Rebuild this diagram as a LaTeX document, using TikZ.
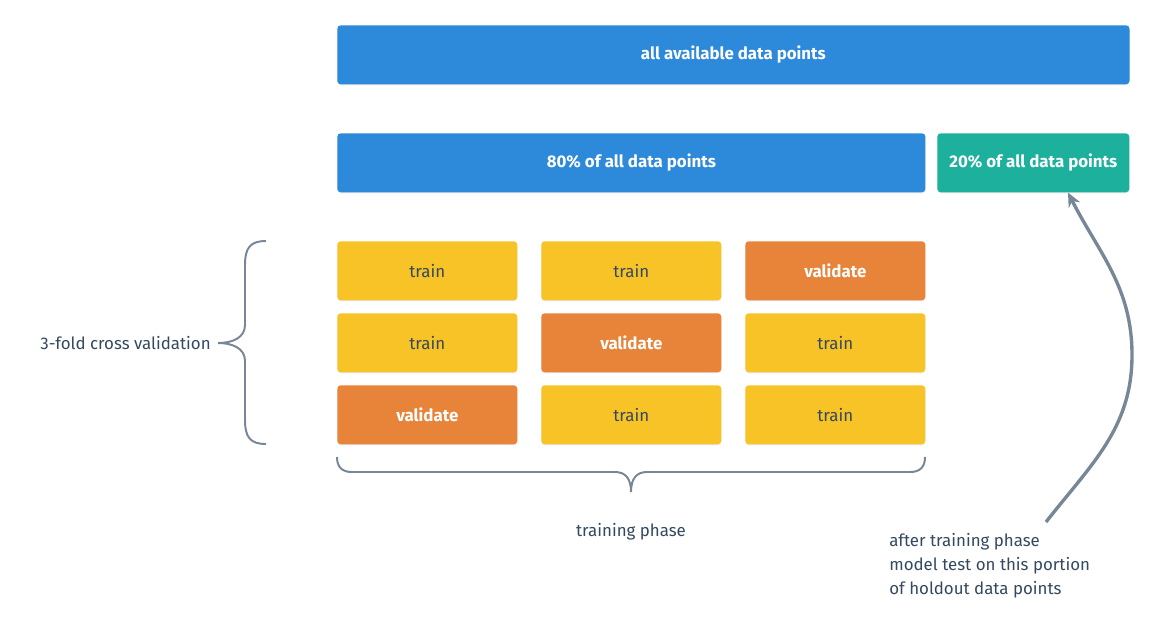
\documentclass[tikz,border=0pt]{standalone}
\usepackage{fontspec}
\setmainfont{Fira Sans}
\usetikzlibrary{shadows,arrows.meta}

\definecolor{barblue}{HTML}{2D89D9}
\definecolor{barteal}{HTML}{1CB09D}
\definecolor{trainyellow}{HTML}{F8C326}
\definecolor{valorange}{HTML}{E8833A}
\definecolor{linegrey}{HTML}{778797}
\definecolor{textdark}{HTML}{34495E}

\tikzset{
  box/.style={rectangle, rounded corners=2.5pt, anchor=north west, inner sep=0pt,
    minimum height=1.475cm, font=\fontsize{12}{14}\selectfont,
    drop shadow={shadow xshift=0pt, shadow yshift=-0.8pt, opacity=0.15}},
  databox/.style={box, fill=barblue, text=white, font=\fontsize{12}{14}\selectfont\bfseries},
  holdbox/.style={box, fill=barteal, text=white, font=\fontsize{12}{14}\selectfont\bfseries},
  trainbox/.style={box, fill=trainyellow, text=textdark, minimum width=4.5cm},
  valbox/.style={box, fill=valorange, text=white, minimum width=4.5cm,
    font=\fontsize{12}{14}\selectfont\bfseries},
  brace/.style={draw=linegrey, line width=1.4pt},
  label/.style={text=textdark, font=\fontsize{12}{17}\selectfont, inner sep=0pt}
}

\begin{document}
\begin{tikzpicture}[x=0.025cm, y=-0.025cm]
  \useasboundingbox (0,0) rectangle (1161,626);

  % data split
  \node[databox, minimum width=19.8cm] (alldata) at (337,25) {all available data points};
  \node[databox, minimum width=14.7cm] (trainset) at (337,133) {80\% of all data points};
  \node[holdbox, minimum width=4.8cm] (holdout) at (937,133) {20\% of all data points};

  % folds
  \node[trainbox] (fold11) at (337,241) {train};
  \node[trainbox] (fold12) at (541,241) {train};
  \node[valbox]   (fold13) at (745,241) {validate};
  \node[trainbox] (fold21) at (337,313) {train};
  \node[valbox]   (fold22) at (541,313) {validate};
  \node[trainbox] (fold23) at (745,313) {train};
  \node[valbox]   (fold31) at (337,385) {validate};
  \node[trainbox] (fold32) at (541,385) {train};
  \node[trainbox] (fold33) at (745,385) {train};

  % braces
  \draw[brace] (266,241) .. controls (250,241) and (245,248) .. (245,265)
    -- (245,325) .. controls (245,338) and (232,343) .. (218,343)
    .. controls (232,343) and (245,348) .. (245,361)
    -- (245,420) .. controls (245,437) and (250,444) .. (266,444);
  \node[label, anchor=east] (cvlabel) at (211,343) {3-fold cross validation};

  \draw[brace] (337,457) .. controls (337,467) and (342,472) .. (352,472)
    -- (615,472) .. controls (625,472) and (631,478) .. (631,492)
    .. controls (631,478) and (637,472) .. (647,472)
    -- (910,472) .. controls (920,472) and (925,467) .. (925,457);
  \node[label] (phase) at (631,532) {training phase};

  % holdout test
  \node[label, anchor=north west, align=left] (note) at (889,533)
    {after training phase\\model test on this portion\\of holdout data points};
  \coordinate (notetip) at (1046,522);
  \draw[draw=linegrey, line width=2.4pt, -{Stealth[length=10pt, width=9pt]}]
    (notetip) to[out=52, in=-90] (1132,355) to[out=90, in=-63] (holdout.south -| 1068,0);
\end{tikzpicture}
\end{document}
